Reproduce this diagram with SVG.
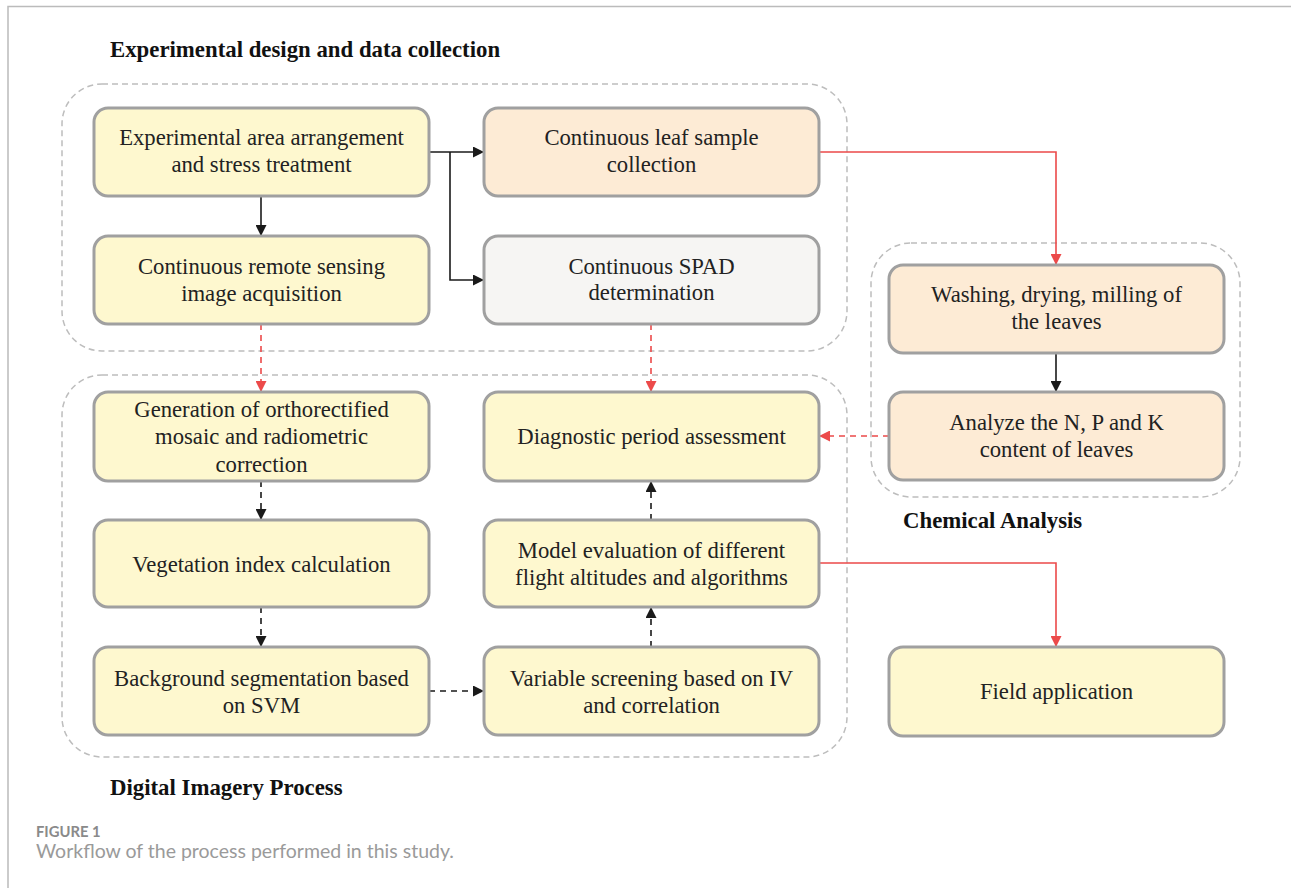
<svg xmlns="http://www.w3.org/2000/svg" width="1291" height="888" viewBox="0 0 1291 888">
<defs>
<style>
.box{stroke:#a0a0a0;stroke-width:3}
.y{fill:#fef8cf}
.p{fill:#fdebd5}
.g{fill:#f6f5f3}
.grp{fill:none;stroke:#bdbdbd;stroke-width:1.5;stroke-dasharray:6 4}
.t{font-family:"Liberation Serif",serif;font-size:22.7px;fill:#222;text-anchor:middle}
.h{font-family:"Liberation Serif",serif;font-size:22.8px;font-weight:bold;fill:#111}
.k{fill:none;stroke:#1a1a1a;stroke-width:1.6}
.r{fill:none;stroke:#ec4a4a;stroke-width:1.6}
.d{stroke-dasharray:6 5}
</style>
<marker id="ak" viewBox="0 0 10 10" refX="10" refY="5" markerWidth="11" markerHeight="11" markerUnits="userSpaceOnUse" orient="auto"><path d="M0,0L10,5L0,10z" fill="#1a1a1a"/></marker>
<marker id="ar" viewBox="0 0 10 10" refX="10" refY="5" markerWidth="11" markerHeight="11" markerUnits="userSpaceOnUse" orient="auto"><path d="M0,0L10,5L0,10z" fill="#ec4a4a"/></marker>
</defs>
<rect width="1291" height="888" fill="#fff"/>
<path d="M8,888V6.5H1291" fill="none" stroke="#bbb" stroke-width="1.5"/>

<g id="groups">
<rect class="grp" x="62" y="84" width="785" height="267" rx="40"/>
<rect class="grp" x="62" y="375" width="785" height="382" rx="40"/>
<rect class="grp" x="871" y="243" width="369" height="254" rx="40"/>
</g>

<g id="labels">
<text class="h" x="110" y="57">Experimental design and data collection</text>
<text class="h" x="903" y="528">Chemical Analysis</text>
<text class="h" x="110" y="795">Digital Imagery Process</text>
<text x="36" y="837" font-family="Lato,sans-serif" font-size="14.8" font-weight="bold" fill="#8a8a8a">FIGURE 1</text>
<text x="36" y="858" font-family="Lato,sans-serif" font-size="19.5" fill="#9a9a9a">Workflow of the process performed in this study.</text>
</g>

<g id="connectors">
<path class="k" d="M429,152H484" marker-end="url(#ak)"/>
<path class="k" d="M450,152V280H484" marker-end="url(#ak)"/>
<path class="k" d="M261,196V236" marker-end="url(#ak)"/>
<path class="r" d="M819,152H1056V265" marker-end="url(#ar)"/>
<path class="k" d="M1056,353V392" marker-end="url(#ak)"/>
<path class="r d" d="M889,436H819" marker-end="url(#ar)"/>
<path class="r d" d="M261,324V392" marker-end="url(#ar)"/>
<path class="r d" d="M651,324V392" marker-end="url(#ar)"/>
<path class="k d" d="M261,481V520" marker-end="url(#ak)"/>
<path class="k d" d="M261,607V647" marker-end="url(#ak)"/>
<path class="k d" d="M429,691H484" marker-end="url(#ak)"/>
<path class="k d" d="M651,647V607" marker-end="url(#ak)"/>
<path class="k d" d="M651,520V481" marker-end="url(#ak)"/>
<path class="r" d="M819,563H1056V647" marker-end="url(#ar)"/>
</g>

<g id="n-area"><rect class="box y" x="94" y="108" width="335" height="88" rx="14"/>
<text class="t" x="261.5" y="145">Experimental area arrangement</text><text class="t" x="261.5" y="172">and stress treatment</text></g>
<g id="n-remote"><rect class="box y" x="94" y="236" width="335" height="88" rx="14"/>
<text class="t" x="261.5" y="274">Continuous remote sensing</text><text class="t" x="261.5" y="301">image acquisition</text></g>
<g id="n-leaf"><rect class="box p" x="484" y="108" width="335" height="88" rx="14"/>
<text class="t" x="651.5" y="145">Continuous leaf sample</text><text class="t" x="651.5" y="172">collection</text></g>
<g id="n-spad"><rect class="box g" x="484" y="236" width="335" height="88" rx="14"/>
<text class="t" x="651.5" y="274">Continuous SPAD</text><text class="t" x="651.5" y="300">determination</text></g>
<g id="n-wash"><rect class="box p" x="889" y="265" width="335" height="88" rx="14"/>
<text class="t" x="1056.5" y="302">Washing, drying, milling of</text><text class="t" x="1056.5" y="329">the leaves</text></g>
<g id="n-analyze"><rect class="box p" x="889" y="392" width="335" height="88" rx="14"/>
<text class="t" x="1056.5" y="430">Analyze the N, P and K</text><text class="t" x="1056.5" y="457">content of leaves</text></g>
<g id="n-gen"><rect class="box y" x="94" y="392" width="335" height="89" rx="14"/>
<text class="t" x="261.5" y="417">Generation of orthorectified</text><text class="t" x="261.5" y="444">mosaic and radiometric</text><text class="t" x="261.5" y="472">correction</text></g>
<g id="n-diag"><rect class="box y" x="484" y="392" width="335" height="89" rx="14"/>
<text class="t" x="651.5" y="444">Diagnostic period assessment</text></g>
<g id="n-veg"><rect class="box y" x="94" y="520" width="335" height="87" rx="14"/>
<text class="t" x="261.5" y="572">Vegetation index calculation</text></g>
<g id="n-model"><rect class="box y" x="484" y="520" width="335" height="87" rx="14"/>
<text class="t" x="651.5" y="558">Model evaluation of different</text><text class="t" x="651.5" y="585">flight altitudes and algorithms</text></g>
<g id="n-bg"><rect class="box y" x="94" y="647" width="335" height="88" rx="14"/>
<text class="t" x="261.5" y="686">Background segmentation based</text><text class="t" x="261.5" y="713">on SVM</text></g>
<g id="n-var"><rect class="box y" x="484" y="647" width="335" height="88" rx="14"/>
<text class="t" x="651.5" y="686">Variable screening based on IV</text><text class="t" x="651.5" y="713">and correlation</text></g>
<g id="n-field"><rect class="box y" x="889" y="647" width="335" height="89" rx="14"/>
<text class="t" x="1056.5" y="699">Field application</text></g>
</svg>
